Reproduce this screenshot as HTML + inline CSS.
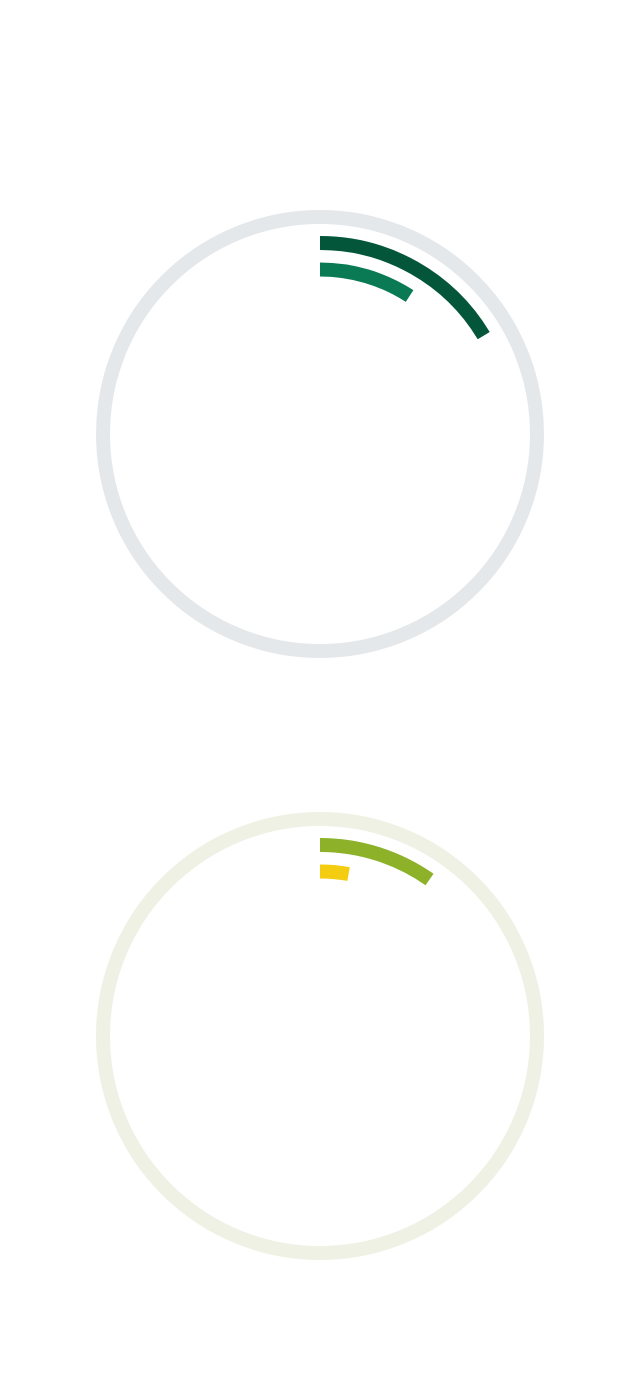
<!DOCTYPE html>
<html><head><meta charset="utf-8"><style>
html,body{margin:0;padding:0;background:#fff;width:640px;height:1400px;overflow:hidden;font-family:"Liberation Sans",sans-serif}
</style></head><body>
<svg id="chart" width="640" height="1400" viewBox="0 0 640 1400"></svg>
<script>
const chartNames = ["chart-top", "chart-bottom"];
const seriesOuter = [59, 35];   // degrees of outer arc
const seriesInner = [33, 10];   // degrees of inner arc
const trackColors = ["#e5e8ea", "#eef1e4"];
const outerColors = ["#04563a", "#8db229"];
const innerColors = ["#0a7a55", "#f4cc10"];
const centersY = [434, 1036];
const svg = document.getElementById('chart');
const NS = 'http://www.w3.org/2000/svg';
function arcPath(cx, cy, r, deg) {
  const a = deg * Math.PI / 180;
  const x = cx + r * Math.sin(a), y = cy - r * Math.cos(a);
  return `M ${cx} ${cy - r} A ${r} ${r} 0 ${deg > 180 ? 1 : 0} 1 ${x} ${y}`;
}
chartNames.forEach((n, i) => {
  const g = document.createElementNS(NS, 'g');
  
  
  svg.appendChild(g);
  const cx = 320, cy = centersY[i];
  const c = document.createElementNS(NS, 'circle');
  
  
  c.setAttribute('cx', cx); c.setAttribute('cy', cy); c.setAttribute('r', 217);
  c.setAttribute('fill', 'none'); c.setAttribute('stroke', trackColors[i]); c.setAttribute('stroke-width', 14);
  g.appendChild(c);
  const p1 = document.createElementNS(NS, 'path');
  
  
  p1.setAttribute('d', arcPath(cx, cy, 191, seriesOuter[i]));
  p1.setAttribute('fill', 'none'); p1.setAttribute('stroke', outerColors[i]); p1.setAttribute('stroke-width', 14);
  g.appendChild(p1);
  const p2 = document.createElementNS(NS, 'path');
  
  
  p2.setAttribute('d', arcPath(cx, cy, 164.5, seriesInner[i]));
  p2.setAttribute('fill', 'none'); p2.setAttribute('stroke', innerColors[i]); p2.setAttribute('stroke-width', 14);
  g.appendChild(p2);
});
</script>
</body></html>
